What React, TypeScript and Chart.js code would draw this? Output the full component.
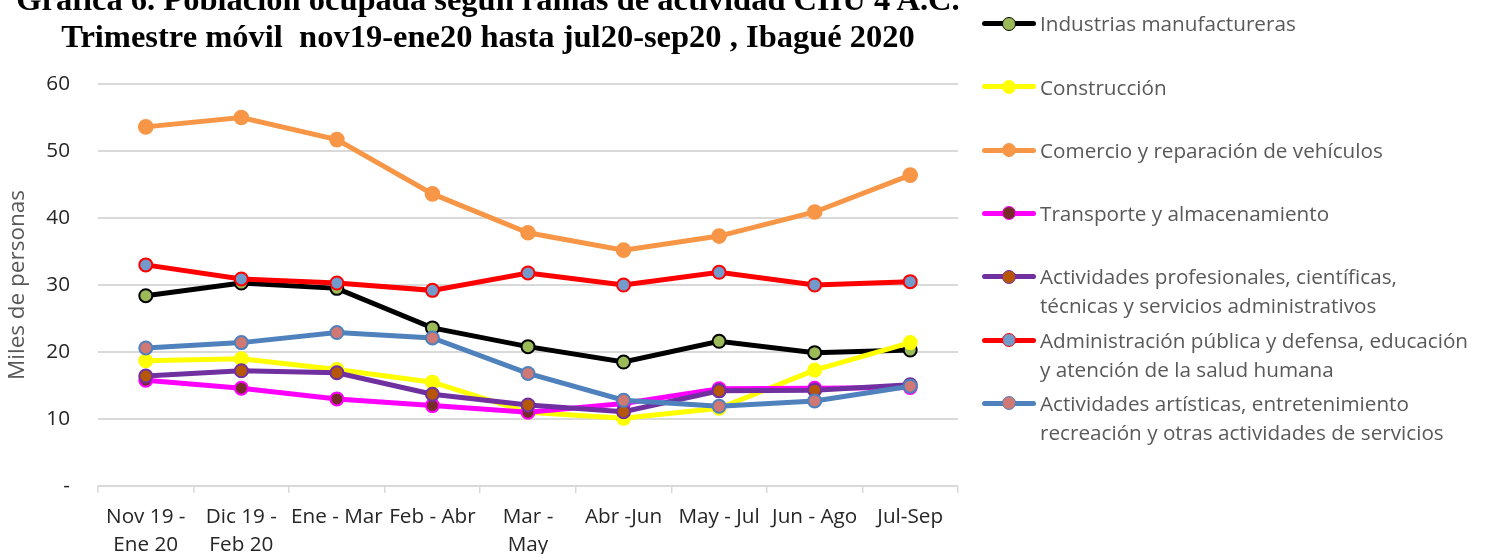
import React, { useEffect, useRef } from "react";
import { Chart, registerables } from "chart.js";

Chart.register(...registerables);

// ---- data ----
const categories: (string | string[])[] = [
  ["Nov 19 -", "Ene 20"],
  ["Dic 19 -", "Feb 20"],
  "Ene - Mar",
  "Feb - Abr",
  ["Mar -", "May"],
  "Abr -Jun",
  "May - Jul",
  "Jun - Ago",
  "Jul-Sep",
];
const industrias = [28.4, 30.3, 29.5, 23.6, 20.8, 18.5, 21.6, 19.9, 20.3];
const construccion = [18.7, 19.0, 17.4, 15.5, 11.0, 10.1, 11.6, 17.3, 21.4];
const comercio = [53.6, 55.0, 51.7, 43.6, 37.8, 35.2, 37.3, 40.9, 46.4];
const transporte = [15.8, 14.6, 13.0, 12.0, 11.0, 12.3, 14.5, 14.6, 14.7];
const profesionales = [16.4, 17.2, 16.9, 13.7, 12.1, 11.1, 14.2, 14.3, 15.1];
const administracion = [33.0, 30.9, 30.3, 29.2, 31.8, 30.0, 31.9, 30.0, 30.5];
const artisticas = [20.6, 21.4, 22.9, 22.1, 16.8, 12.8, 11.9, 12.7, 14.9];

const yTicks = [0, 10, 20, 30, 40, 50, 60];

const seriesLabels: string[][] = [
  ["Industrias manufactureras"],
  ["Construcción"],
  ["Comercio y reparación de vehículos"],
  ["Transporte y almacenamiento"],
  ["Actividades profesionales, científicas,", "técnicas y servicios administrativos"],
  ["Administración pública y defensa, educación", "y atención de la salud humana"],
  ["Actividades artísticas, entretenimiento", "recreación y otras actividades de servicios"],
];
const seriesValues = [
  industrias,
  construccion,
  comercio,
  transporte,
  profesionales,
  administracion,
  artisticas,
];

const titleLines = [
  "Gráfica 6. Población ocupada según ramas de actividad CIIU 4 A.C.",
  "Trimestre móvil  nov19-ene20 hasta jul20-sep20 , Ibagué 2020",
];

// ---- styles ----
const styles = [
  { line: "#000000", fill: "#9BBB59", border: "#000000", r: 6.5 },
  { line: "#FFFF00", fill: "#FFFF00", border: "#FFFF00", r: 6.5 },
  { line: "#F79646", fill: "#F79646", border: "#F79646", r: 6.8 },
  { line: "#FF00FF", fill: "#772C2A", border: "#FF00FF", r: 6.5 },
  { line: "#7030A0", fill: "#B65708", border: "#7030A0", r: 6.5 },
  { line: "#FF0000", fill: "#729ACA", border: "#FF0000", r: 6.5 },
  { line: "#4F81BD", fill: "#D07873", border: "#4F81BD", r: 6.5 },
];

const FONT = '"Open Sans", sans-serif';
const FS = 20.7;
const W = 1491;
const H = 554;

export default function App() {
  const ref = useRef<HTMLCanvasElement>(null);

  useEffect(() => {
    document.body.style.margin = "0";
    if (!ref.current) return;
    const n = seriesValues.length;
    const chart = new Chart(ref.current, {
      type: "line",
      data: {
        labels: categories,
        datasets: seriesValues.map((vals, i) => ({
          label: seriesLabels[i].join(" "),
          data: vals,
          borderColor: styles[i].line,
          backgroundColor: styles[i].line,
          borderWidth: 5,
          pointRadius: styles[i].r,
          pointBackgroundColor: styles[i].fill,
          pointBorderColor: styles[i].border,
          pointBorderWidth: 2,
          tension: 0,
          fill: false,
          order: n - i,
        })),
      },
      options: {
        responsive: false,
        animation: false,
        layout: { padding: { left: 0, top: 84, right: 533, bottom: 0 } },
        plugins: {
          legend: { display: false },
          tooltip: { enabled: false },
          title: { display: false },
        },
        scales: {
          x: {
            type: "category",
            offset: true,
            afterFit: (s: any) => {
              s.height = 68;
            },
            grid: {
              offset: true,
              drawOnChartArea: false,
              drawTicks: true,
              tickLength: 7,
              color: "#d9d9d9",
              lineWidth: 1.5,
            },
            border: { display: false },
            ticks: {
              color: "#262626",
              font: { family: FONT, size: FS, lineHeight: 1.35 },
              padding: 10,
              maxRotation: 0,
              autoSkip: false,
            },
          },
          y: {
            min: 0,
            max: 60,
            afterFit: (s: any) => {
              s.width = 98;
            },
            afterBuildTicks: (s: any) => {
              s.ticks = yTicks.map((v) => ({ value: v }));
            },
            grid: {
              drawTicks: false,
              color: "#d9d9d9",
              lineWidth: 2,
            },
            border: { display: false },
            ticks: {
              color: "#262626",
              font: { family: FONT, size: FS },
              padding: 28,
              callback: (v: any) => (Number(v) === 0 ? "-" : String(v)),
            },
            title: {
              display: true,
              text: "Miles de personas",
              color: "#595959",
              font: { family: FONT, size: 22.5, lineHeight: 1.2 },
              padding: { top: 4, bottom: 4 },
            },
          },
        },
      },
    });
    return () => chart.destroy();
  }, []);

  const legendBase = 32; // baseline of first legend line
  const legendStep = 63.3;

  return (
    <div
      style={{
        position: "relative",
        width: W,
        height: H,
        overflow: "hidden",
        fontFamily: FONT,
        background: "#fff",
      }}
    >
      <style>{`html,body{margin:0;padding:0;}`}</style>
      <canvas
        ref={ref}
        width={W}
        height={H}
        style={{ position: "absolute", left: 0, top: 0, width: W, height: H }}
      />
      {titleLines.map((t, i) => (
        <div
          key={i}
          style={{
            position: "absolute",
            left: 0,
            width: 976,
            top: i === 0 ? -18 : 18.5,
            height: 35,
            lineHeight: "35px",
            textAlign: "center",
            fontFamily: '"Liberation Serif", "Times New Roman", serif',
            fontWeight: "bold",
            fontSize: 32.5,
            color: "#000",
            whiteSpace: "pre",
          }}
        >
          {t}
        </div>
      ))}
      {seriesLabels.map((lines, i) => {
        const baseline = legendBase + legendStep * i;
        const symY = baseline - 8.5;
        const st = styles[i];
        const d = 14;
        return (
          <React.Fragment key={i}>
            <div
              style={{
                position: "absolute",
                left: 982,
                top: symY - 2.5,
                width: 54,
                height: 5,
                borderRadius: 3,
                background: st.line,
              }}
            />
            <div
              style={{
                position: "absolute",
                left: 1008.5 - d / 2,
                top: symY - d / 2,
                width: d,
                height: d,
                boxSizing: "border-box",
                borderRadius: "50%",
                background: st.fill,
                border: `1.5px solid ${st.border}`,
              }}
            />
            {lines.map((ln, j) => (
              <div
                key={j}
                style={{
                  position: "absolute",
                  left: 1040,
                  top: baseline + 29 * j - 22.8,
                  height: 29,
                  lineHeight: "29px",
                  fontSize: FS,
                  color: "#595959",
                  whiteSpace: "nowrap",
                }}
              >
                {ln}
              </div>
            ))}
          </React.Fragment>
        );
      })}
    </div>
  );
}
